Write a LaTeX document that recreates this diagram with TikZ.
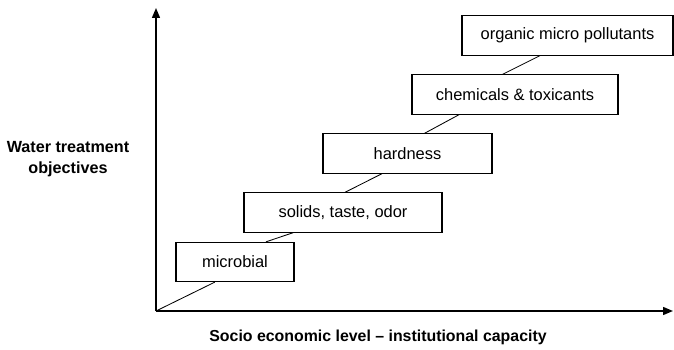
\documentclass[tikz,border=0pt]{standalone}
\usepackage{fontspec}
\setmainfont{Liberation Sans}
\usetikzlibrary{arrows.meta,calc}

\begin{document}
\begin{tikzpicture}[
  x=0.25mm, y=0.25mm,
  font=\fontsize{11.7}{14}\selectfont,
  objbox/.style={draw, line width=0.8pt, fill=white, minimum height=9.8mm, inner sep=0pt},
  axis/.style={line width=1pt, -{Triangle[length=7pt,width=5.6pt]}},
  link/.style={line width=0.6pt}
]
\useasboundingbox (0,0) rectangle (674,349);
\coordinate (o) at (156,38);
\draw[axis] (o) -- (156,341) coordinate (ytop);
\draw[axis] (o) -- (673,38) coordinate (xend);

\node[objbox, minimum width=29.5mm] (m1) at (235,87) {microbial};
\node[objbox, minimum width=49.5mm] (m2) at (343,136.5) {solids, taste, odor};
\node[objbox, minimum width=42.25mm] (m3) at (407.5,195.5) {hardness};
\node[objbox, minimum width=51.5mm] (m4) at (515,254.5) {chemicals \& toxicants};
\node[objbox, minimum width=52.75mm] (m5) at (567.5,313.5) {organic micro pollutants};

% steps between the objectives
\draw[link] (o) -- ($(m1.south west)!0.33!(m1.south east)$);
\draw[link] ($(m1.north west)!0.76!(m1.north east)$) -- ($(m2.south west)!0.25!(m2.south east)$);
\draw[link] ($(m2.north west)!0.51!(m2.north east)$) -- ($(m3.south west)!0.35!(m3.south east)$);
\draw[link] ($(m3.north west)!0.60!(m3.north east)$) -- ($(m4.south west)!0.23!(m4.south east)$);
\draw[link] ($(m4.north west)!0.44!(m4.north east)$) -- ($(m5.south west)!0.37!(m5.south east)$);

\node[font=\fontsize{11.5}{15}\selectfont\bfseries, align=center] (ylab) at (68,190) {Water treatment\\objectives};
\node[font=\fontsize{11.3}{14}\selectfont\bfseries] (xlab) at (378,12) {Socio economic level -- institutional capacity};
\end{tikzpicture}
\end{document}
